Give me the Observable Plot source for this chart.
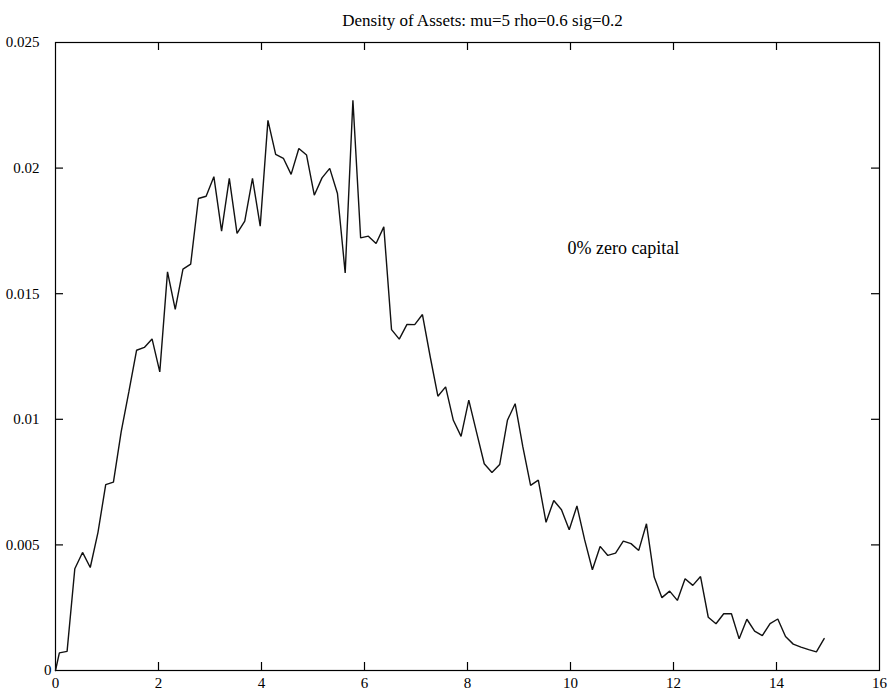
<!DOCTYPE html>
<html>
<head>
<meta charset="utf-8">
<script src="https://cdn.jsdelivr.net/npm/d3@7"></script>
<script src="https://cdn.jsdelivr.net/npm/@observablehq/plot@0.6"></script>
<style>
  html, body { margin: 0; padding: 0; background: #fff; }
  #chart svg { display: block; }
</style>
</head>
<body>
<div id="chart"></div>
<script>
const title = "Density of Assets: mu=5 rho=0.6 sig=0.2";
const annotation = "0% zero capital";
const annotationX = 9.94;
const annotationY = 0.0168;

const assets = [
  0, 0.075, 0.225, 0.375, 0.525, 0.675, 0.825, 0.975, 1.125, 1.275, 1.425,
  1.575, 1.725, 1.875, 2.025, 2.175, 2.325, 2.475, 2.625, 2.775, 2.925,
  3.075, 3.225, 3.375, 3.525, 3.675, 3.825, 3.975, 4.125, 4.275, 4.425,
  4.575, 4.725, 4.875, 5.025, 5.175, 5.325, 5.475, 5.625, 5.775, 5.925,
  6.075, 6.225, 6.375, 6.525, 6.675, 6.825, 6.975, 7.125, 7.275, 7.425,
  7.575, 7.725, 7.875, 8.025, 8.175, 8.325, 8.475, 8.625, 8.775, 8.925,
  9.075, 9.225, 9.375, 9.525, 9.675, 9.825, 9.975, 10.125, 10.275, 10.425,
  10.575, 10.725, 10.875, 11.025, 11.175, 11.325, 11.475, 11.625, 11.775, 11.925,
  12.075, 12.225, 12.375, 12.525, 12.675, 12.825, 12.975, 13.125, 13.275, 13.425,
  13.575, 13.725, 13.875, 14.025, 14.175, 14.325, 14.475, 14.625, 14.775, 14.925
];

const density = [
  0, 0.0007, 0.00076, 0.00405, 0.0047, 0.0041, 0.0055, 0.0074, 0.0075, 0.0095, 0.0111,
  0.01275, 0.01286, 0.0132, 0.01189, 0.01587, 0.01438, 0.01598, 0.01618, 0.01879, 0.01888,
  0.01966, 0.01749, 0.01959, 0.0174, 0.01789, 0.01959, 0.01769, 0.0219, 0.02055, 0.02039,
  0.01975, 0.02078, 0.02052, 0.01892, 0.01961, 0.01999, 0.01899, 0.01583, 0.0227, 0.01722,
  0.01729, 0.0170, 0.01766, 0.01357, 0.01319, 0.01378, 0.01377, 0.01417, 0.0125, 0.01092,
  0.01129, 0.00996, 0.00932, 0.01076, 0.00949, 0.00823, 0.00788, 0.0082, 0.00996, 0.01062,
  0.0089, 0.00737, 0.00758, 0.0059, 0.00677, 0.0064, 0.0056, 0.00655, 0.0052, 0.00401,
  0.00494, 0.00458, 0.00467, 0.00515, 0.00505, 0.00478, 0.00584, 0.00372, 0.0029, 0.00316,
  0.00279, 0.00365, 0.00339, 0.00374, 0.00212, 0.00186, 0.00226, 0.00226, 0.00126, 0.00204,
  0.00157, 0.00139, 0.00187, 0.00205, 0.00135, 0.00105, 0.00093, 0.00083, 0.00074, 0.00127
];

const xTicks = [0, 2, 4, 6, 8, 10, 12, 14, 16];
const yTicks = [0.005, 0.01, 0.015, 0.02, 0.025];
const yZero = [0];
const innerX = [2, 4, 6, 8, 10, 12, 14];
const innerY = [0.005, 0.01, 0.015, 0.02];

const W = 893, H = 695, mL = 55, mR = 14, mT = 42, mB = 25, tickLen = 8;
const xMax = 16, yMax = 0.025;
const frameW = W - mL - mR, frameH = H - mT - mB;
const tickDX = tickLen * xMax / frameW;   // tick length expressed through the x scale
const tickDY = tickLen * yMax / frameH;   // tick length expressed through the y scale

const data = assets.map((a, i) => ({x: a, y: density[i]}));
const fmtY = d3.format("~g");

const chart = Plot.plot({
  width: W,
  height: H,
  marginLeft: mL,
  marginRight: mR,
  marginTop: mT,
  marginBottom: mB,
  style: {fontFamily: "'Liberation Serif', 'Times New Roman', serif", fontSize: "15px", color: "#000", background: "#fff"},
  x: {domain: [0, xMax]},
  y: {domain: [0, yMax]},
  marks: [
    Plot.frame({stroke: "#000", strokeWidth: 1.2}),
    Plot.axisX(xTicks, {anchor: "bottom", tickSize: 0, tickPadding: 7, fontSize: 15, label: null}),
    Plot.axisY(yTicks, {anchor: "left", tickSize: 0, tickPadding: 16, tickFormat: fmtY, fontSize: 15, label: null}),
    Plot.axisY(yZero, {anchor: "left", tickSize: 0, tickPadding: 4, tickFormat: fmtY, fontSize: 15, label: null}),
    // inward ticks on all four sides
    Plot.ruleX(innerX, {x: d => d, y1: 0, y2: tickDY, stroke: "#000", strokeWidth: 1.2}),
    Plot.ruleX(innerX, {x: d => d, y1: yMax - tickDY, y2: yMax, stroke: "#000", strokeWidth: 1.2}),
    Plot.ruleY(innerY, {y: d => d, x1: 0, x2: tickDX, stroke: "#000", strokeWidth: 1.2}),
    Plot.ruleY(innerY, {y: d => d, x1: xMax - tickDX, x2: xMax, stroke: "#000", strokeWidth: 1.2}),
    Plot.line(data, {x: "x", y: "y", stroke: "#111", strokeWidth: 1.4, strokeLinejoin: "miter"}),
    Plot.text([annotation], {x: annotationX, y: annotationY, text: d => d, textAnchor: "start", fontSize: 18, style: "word-spacing:8px"}),
    Plot.text([title], {frameAnchor: "top", dy: -29, dx: 15, text: d => d, fontSize: 17, style: "word-spacing:4px"})
  ]
});
document.getElementById("chart").appendChild(chart);
</script>
</body>
</html>
